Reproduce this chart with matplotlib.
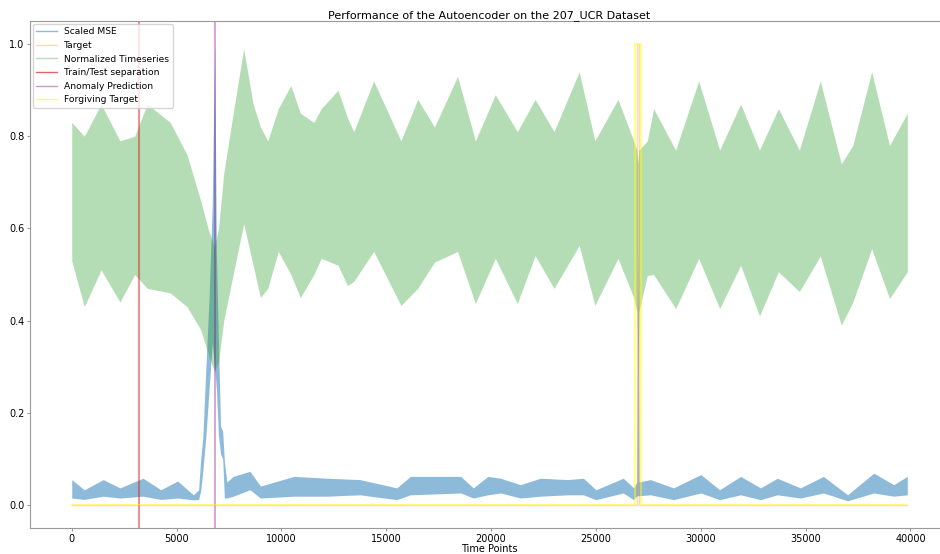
import matplotlib.pyplot as plt
from matplotlib.lines import Line2D

# envelope of the normalized timeseries (time point, low, high)
ts_t = [0, 600, 1400, 2300, 3000, 3600, 4700, 5500, 6150, 6500, 6800, 7000,
        7250, 7700, 8200, 8650, 9000, 9350, 9850, 10450, 10900, 11550, 11900,
        12700, 13150, 13450, 14400, 15700, 16500, 17300, 18400, 19250, 20200,
        21250, 22100, 23000, 24200, 24950, 26050, 26800, 26950, 27000, 27050,
        27450, 27750, 28800, 29900, 30900, 31900, 32800, 33700, 34700, 35700,
        36700, 37250, 38150, 39000, 39850]
ts_lo = [0.53, 0.43, 0.51, 0.44, 0.50, 0.47, 0.46, 0.43, 0.38, 0.33, 0.29, 0.31,
         0.40, 0.50, 0.61, 0.52, 0.45, 0.47, 0.55, 0.50, 0.45, 0.50, 0.535,
         0.52, 0.476, 0.485, 0.55, 0.433, 0.47, 0.527, 0.55, 0.437, 0.535,
         0.437, 0.541, 0.47, 0.563, 0.433, 0.535, 0.45, 0.42, 0.27, 0.42,
         0.498, 0.50, 0.426, 0.535, 0.426, 0.52, 0.41, 0.506, 0.463, 0.54,
         0.39, 0.44, 0.556, 0.448, 0.506]
ts_hi = [0.83, 0.80, 0.87, 0.79, 0.80, 0.87, 0.83, 0.76, 0.66, 0.60, 0.56, 0.60,
         0.72, 0.85, 0.99, 0.87, 0.82, 0.79, 0.86, 0.91, 0.85, 0.83, 0.86,
         0.90, 0.84, 0.81, 0.92, 0.79, 0.88, 0.82, 0.93, 0.79, 0.89,
         0.81, 0.88, 0.81, 0.94, 0.79, 0.88, 0.79, 0.77, 0.74, 0.77,
         0.79, 0.86, 0.77, 0.92, 0.77, 0.87, 0.77, 0.86, 0.77, 0.92,
         0.74, 0.78, 0.94, 0.78, 0.85]

# envelope of the scaled reconstruction error
mse_t = [0, 600, 1500, 2300, 3400, 4250, 5050, 5800, 6050, 6150, 6250, 6400,
         6550, 6700, 6816, 6900, 7000, 7100, 7200, 7280, 7400, 7700, 8500,
         9000, 10600, 12200, 13750, 15500, 16150, 18550, 19150, 19850, 20450,
         21400, 22350, 23650, 24400, 25000, 26300, 26800, 26950, 27000, 27050,
         27600, 28700, 30000, 30900, 31900, 32850, 33650, 34750, 35850, 37000,
         38250, 39200, 39850]
mse_lo = [0.015, 0.012, 0.019, 0.015, 0.019, 0.012, 0.015, 0.011, 0.012, 0.03,
          0.073, 0.15, 0.25, 0.35, 0.30, 0.25, 0.15, 0.11, 0.10, 0.015, 0.015,
          0.019, 0.033, 0.015, 0.019, 0.019, 0.022, 0.0115, 0.022, 0.026,
          0.015, 0.022, 0.026, 0.015, 0.019, 0.022, 0.022, 0.0115, 0.026,
          0.0115, 0.02, 0.02, 0.02, 0.022, 0.0115, 0.026, 0.0115, 0.022,
          0.0115, 0.022, 0.015, 0.026, 0.009, 0.026, 0.019, 0.022]
mse_hi = [0.055, 0.033, 0.055, 0.037, 0.058, 0.033, 0.052, 0.022, 0.033, 0.10,
          0.145, 0.30, 0.45, 0.65, 1.0, 0.55, 0.35, 0.17, 0.16, 0.095, 0.05,
          0.062, 0.073, 0.041, 0.062, 0.058, 0.055, 0.037, 0.062, 0.062,
          0.037, 0.062, 0.058, 0.044, 0.058, 0.055, 0.058, 0.033, 0.058,
          0.037, 0.05, 0.55, 0.05, 0.055, 0.037, 0.066, 0.033, 0.062,
          0.037, 0.058, 0.037, 0.062, 0.022, 0.069, 0.044, 0.062]

n_points = 39850
split_point = 3200
predicted_anomaly = 6816
target_range = (26970, 27030)
forgiving_range = (26880, 27150)


def step_series(start, end):
    # 0 everywhere, 1 inside the labelled window
    xs = [0, start, start, end, end, n_points]
    ys = [0, 0, 1, 1, 0, 0]
    return xs, ys


fig = plt.figure(figsize=(9.4, 5.54), dpi=100)
ax = fig.add_axes([30 / 940, 26 / 554, 918 / 940, 507 / 554])

ax.fill_between(mse_t, mse_lo, mse_hi, color='C0', alpha=0.5, lw=0)
tx, ty = step_series(*target_range)
ax.plot(tx, ty, color='C1', alpha=0.3, lw=1)
ax.fill_between(ts_t, ts_lo, ts_hi, color='C2', alpha=0.35, lw=0)
ax.axvline(split_point, color='C3', alpha=0.5, lw=1.5)
ax.axvline(predicted_anomaly, color='purple', alpha=0.4, lw=1.2)
fx, fy = step_series(*forgiving_range)
ax.plot(fx, fy, color='yellow', alpha=0.45, lw=1.5)

handles = [
    Line2D([], [], color='C0', alpha=0.5, lw=1),
    Line2D([], [], color='C1', alpha=0.3, lw=1),
    Line2D([], [], color='C2', alpha=0.35, lw=1),
    Line2D([], [], color='C3', alpha=0.7, lw=1),
    Line2D([], [], color='purple', alpha=0.4, lw=1),
    Line2D([], [], color='yellow', alpha=0.6, lw=1),
]
labels = ['Scaled MSE', 'Target', 'Normalized Timeseries',
          'Train/Test separation', 'Anomaly Prediction', 'Forgiving Target']
ax.legend(handles, labels, loc='upper left', fontsize=6.6, framealpha=0.8,
          borderaxespad=0.3, handlelength=2.2)

ax.set_xlim(-1990, 41790)
ax.set_ylim(-0.05, 1.05)
ax.set_xticks(range(0, 40001, 5000))
ax.set_yticks([0.0, 0.2, 0.4, 0.6, 0.8, 1.0])
ax.tick_params(labelsize=7, length=2, pad=2, color='#999999')
for s in ax.spines.values():
    s.set_color('#999999')
    s.set_linewidth(0.8)

ax.set_title('Performance of the Autoencoder on the 207_UCR Dataset', fontsize=8, pad=2)
ax.set_xlabel('Time Points', fontsize=7, labelpad=0)

plt.savefig('out.png', dpi=100)
